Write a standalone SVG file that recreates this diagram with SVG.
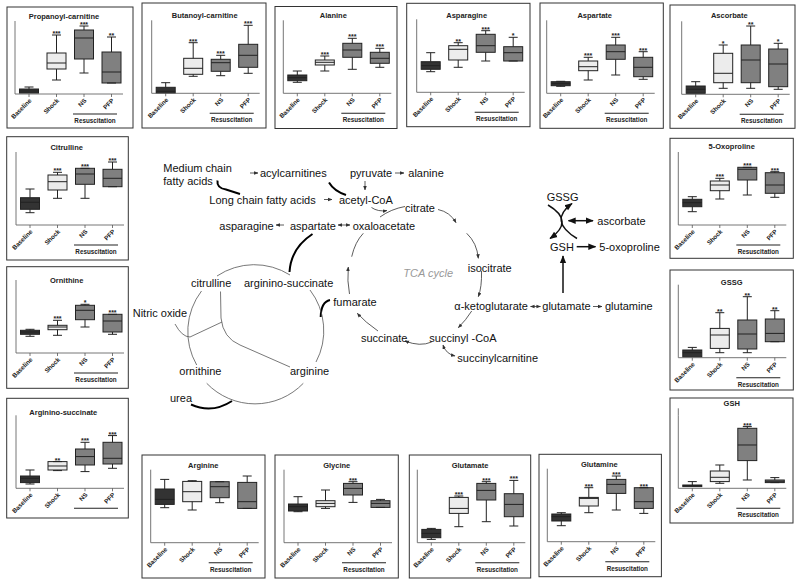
<svg xmlns="http://www.w3.org/2000/svg" width="800" height="584" viewBox="0 0 800 584">
<style>
.fr{fill:#fff;stroke:#333;stroke-width:1}
.ax{fill:none;stroke:#666;stroke-width:0.9}
.tk{fill:none;stroke:#555;stroke-width:0.8}
.ti{font:bold 7.5px "Liberation Sans",Arial,sans-serif;text-anchor:middle;fill:#222}
.xl{font:bold 6.3px "Liberation Sans",Arial,sans-serif;text-anchor:end;fill:#222}
.rl{stroke:#222;stroke-width:1.1}
.rt{font:bold 6.3px "Liberation Sans",Arial,sans-serif;text-anchor:middle;fill:#222}
.st{font:bold 7px "Liberation Sans",Arial,sans-serif;text-anchor:middle;fill:#222}
.w{fill:none;stroke:#222;stroke-width:1}
.b0{fill:#333;stroke:#222;stroke-width:1}
.b1{fill:#ececec;stroke:#222;stroke-width:1}
.b2{fill:#808080;stroke:#222;stroke-width:1}
.lb{font:11px "Liberation Sans",Arial,sans-serif;fill:#111}
.tca{font:italic 11px "Liberation Sans",Arial,sans-serif;fill:#999}
.tn{fill:none;stroke:#333;stroke-width:0.8}
.uc{fill:none;stroke:#555;stroke-width:0.8}
.tb{fill:none;stroke:#000;stroke-width:2}
.gs{fill:none;stroke:#111;stroke-width:1.5}
</style>
<defs>
<marker id="ah" viewBox="0 0 10 10" refX="9" refY="5" markerUnits="userSpaceOnUse" markerWidth="4.5" markerHeight="4.5" orient="auto-start-reverse"><path d="M0,1L10,5L0,9z" fill="#333"/></marker>
<marker id="ab" viewBox="0 0 10 10" refX="9" refY="5" markerUnits="userSpaceOnUse" markerWidth="8" markerHeight="8" orient="auto-start-reverse"><path d="M0,1L10,5L0,9z" fill="#111"/></marker>
<g id="xl">
<path class="ax" d="M0,-73V0H108"/>
<path class="tk" d="M14,0v3M41.5,0v3M69,0v3M96.5,0v3"/>
<text class="xl" transform="translate(17,7) rotate(-45)">Baseline</text>
<text class="xl" transform="translate(44.5,7) rotate(-45)">Shock</text>
<text class="xl" transform="translate(72,7) rotate(-45)">NS</text>
<text class="xl" transform="translate(99.5,7) rotate(-45)">PFP</text>
<path class="rl" d="M58,20H102"/>
</g>
<g id="xr"><use href="#xl"/><text class="rt" x="80" y="29">Resuscitation</text></g>
</defs>
<rect width="800" height="584" fill="#fff"/>

<g id="propanoyl-carnitine" transform="translate(15,94)">
<rect class="fr" x="-8" y="-87" width="126" height="121"/>
<text class="ti" x="49" y="-75.5">Propanoyl-carnitine</text>
<use href="#xr"/>
<rect class="b0" x="4.5" y="-5" width="19" height="4"/><path class="w" d="M14,-7V-5M9.5,-7h9M4.5,-3h19"/>
<rect class="b1" x="32" y="-41" width="19" height="16"/><path class="w" d="M41.5,-59V-41M41.5,-25V-14M37,-59h9M37,-14h9M32,-31h19"/><text class="st" x="41.5" y="-58">***</text>
<rect class="b2" x="59.5" y="-64" width="19" height="29"/><path class="w" d="M69,-68V-64M69,-35V-21M64.5,-68h9M64.5,-21h9M59.5,-56h19"/><text class="st" x="69" y="-67">***</text>
<rect class="b2" x="87" y="-42" width="19" height="31"/><path class="w" d="M96.5,-57V-42M92,-57h9M92,-11h9M87,-22h19"/><text class="st" x="96.5" y="-56">**</text>
</g>

<g id="butanoyl-carnitine" transform="translate(151.7,93.3)">
<rect class="fr" x="-9.7" y="-90.3" width="124" height="125"/>
<text class="ti" x="53" y="-75.5">Butanoyl-carnitine</text>
<use href="#xr"/>
<rect class="b0" x="4.5" y="-6" width="19" height="5.5"/><path class="w" d="M14,-10.6V-6M9.5,-10.6h9M4.5,-2h19"/>
<rect class="b1" x="32" y="-35" width="19" height="16"/><path class="w" d="M41.5,-50.6V-35M41.5,-19V-17M37,-50.6h9M37,-17h9M32,-25h19"/><text class="st" x="41.5" y="-49.6">***</text>
<rect class="b2" x="59.5" y="-34" width="19" height="12"/><path class="w" d="M69,-38V-34M69,-22V-17.6M64.5,-38h9M64.5,-17.6h9M59.5,-30.6h19"/><text class="st" x="69" y="-37">***</text>
<rect class="b2" x="87" y="-49" width="19" height="23"/><path class="w" d="M96.5,-68V-49M96.5,-26V-20M92,-68h9M92,-20h9M87,-38h19"/><text class="st" x="96.5" y="-67">***</text>
</g>

<g id="alanine" transform="translate(283.3,93.3)">
<rect class="fr" x="-8.3" y="-86.8" width="122" height="122"/>
<text class="ti" x="50" y="-75.5">Alanine</text>
<use href="#xr"/>
<rect class="b0" x="4.5" y="-18.3" width="19" height="5.7"/><path class="w" d="M14,-22.3V-18.3M14,-12.6V-11M9.5,-22.3h9M9.5,-11h9M4.5,-15.6h19"/>
<rect class="b1" x="32" y="-33.3" width="19" height="5"/><path class="w" d="M41.5,-37.3V-33.3M41.5,-28.3V-22.3M37,-37.3h9M37,-22.3h9M32,-31h19"/><text class="st" x="41.5" y="-36.3">***</text>
<rect class="b2" x="59.5" y="-50" width="19" height="14"/><path class="w" d="M69,-55V-50M69,-36V-24M64.5,-55h9M64.5,-24h9M59.5,-43.3h19"/><text class="st" x="69" y="-54">***</text>
<rect class="b2" x="87" y="-41" width="19" height="11"/><path class="w" d="M96.5,-45V-41M96.5,-30V-26M92,-45h9M92,-26h9M87,-35h19"/><text class="st" x="96.5" y="-44">***</text>
</g>

<g id="asparagine" transform="translate(416.7,92.3)">
<rect class="fr" x="-10" y="-89" width="123.3" height="123.4"/>
<text class="ti" x="50" y="-74.5">Asparagine</text>
<use href="#xr"/>
<rect class="b0" x="4.5" y="-30.6" width="19" height="7.6"/><path class="w" d="M14,-39.6V-30.6M14,-23V-20.6M9.5,-39.6h9M9.5,-20.6h9M4.5,-26.6h19"/>
<rect class="b1" x="32" y="-46.6" width="19" height="14.3"/><path class="w" d="M41.5,-49.6V-46.6M41.5,-32.3V-25M37,-49.6h9M37,-25h9M32,-43h19"/><text class="st" x="41.5" y="-48.6">**</text>
<rect class="b2" x="59.5" y="-58" width="19" height="18"/><path class="w" d="M69,-61.6V-58M69,-40V-31.3M64.5,-61.6h9M64.5,-31.3h9M59.5,-46.6h19"/><text class="st" x="69" y="-60.6">***</text>
<rect class="b2" x="87" y="-45.6" width="19" height="14.3"/><path class="w" d="M96.5,-55V-45.6M92,-55h9M92,-31.3h9M87,-39.6h19"/><text class="st" x="96.5" y="-54">*</text>
</g>

<g id="aspartate" transform="translate(546.7,93.3)">
<rect class="fr" x="-6.7" y="-90.3" width="123.3" height="125.3"/>
<text class="ti" x="48" y="-75.5">Aspartate</text>
<use href="#xr"/>
<rect class="b0" x="4.5" y="-11.6" width="19" height="4"/><path class="w" d="M14,-12V-11.6M14,-7.6V-7M9.5,-12h9M9.5,-7h9M4.5,-9.6h19"/>
<rect class="b1" x="32" y="-32.3" width="19" height="9.7"/><path class="w" d="M41.5,-36V-32.3M41.5,-22.6V-13.3M37,-36h9M37,-13.3h9M32,-26.6h19"/><text class="st" x="41.5" y="-35">***</text>
<rect class="b2" x="59.5" y="-48.3" width="19" height="14.3"/><path class="w" d="M69,-56V-48.3M69,-34V-18.3M64.5,-56h9M64.5,-18.3h9M59.5,-41.6h19"/><text class="st" x="69" y="-55">***</text>
<rect class="b2" x="87" y="-36" width="19" height="19.4"/><path class="w" d="M96.5,-41.6V-36M96.5,-16.6V-14M92,-41.6h9M92,-14h9M87,-26h19"/><text class="st" x="96.5" y="-40.6">***</text>
</g>

<g id="ascorbate" transform="translate(681.7,94.3)">
<rect class="fr" x="-11.7" y="-89.3" width="125" height="123.3"/>
<text class="ti" x="47.6" y="-76">Ascorbate</text>
<use href="#xr"/>
<rect class="b0" x="4.5" y="-8.3" width="19" height="7.3"/><path class="w" d="M14,-12.6V-8.3M9.5,-12.6h9M4.5,-5h19"/>
<rect class="b1" x="32" y="-41" width="19" height="29.4"/><path class="w" d="M41.5,-49.3V-41M41.5,-11.6V-6M37,-49.3h9M37,-6h9M32,-21h19"/><text class="st" x="41.5" y="-48.3">*</text>
<rect class="b2" x="59.5" y="-49.3" width="19" height="37.7"/><path class="w" d="M69,-68.3V-49.3M69,-11.6V-6M64.5,-68.3h9M64.5,-6h9M59.5,-34.3h19"/><text class="st" x="69" y="-67.3">**</text>
<rect class="b2" x="87" y="-45.3" width="19" height="37.7"/><path class="w" d="M96.5,-51V-45.3M96.5,-7.6V-5M92,-51h9M92,-5h9M87,-30.3h19"/><text class="st" x="96.5" y="-50">*</text>
</g>

<g id="citrulline" transform="translate(16,225)">
<rect class="fr" x="-9.3" y="-88.3" width="121.6" height="123.3"/>
<text class="ti" x="50.7" y="-75.5">Citrulline</text>
<use href="#xr"/>
<rect class="b0" x="4.5" y="-27.3" width="19" height="11.6"/><path class="w" d="M14,-36V-27.3M14,-15.7V-12.3M9.5,-36h9M9.5,-12.3h9M4.5,-22.7h19"/>
<rect class="b1" x="32" y="-50" width="19" height="15"/><path class="w" d="M41.5,-52.7V-50M41.5,-35V-26.7M37,-52.7h9M37,-26.7h9M32,-43.3h19"/><text class="st" x="41.5" y="-51.7">***</text>
<rect class="b2" x="59.5" y="-56.7" width="19" height="16"/><path class="w" d="M69,-40.7V-26.7M64.5,-56.7h9M64.5,-26.7h9M59.5,-51h19"/><text class="st" x="69" y="-55.7">***</text>
<rect class="b2" x="87" y="-55.7" width="19" height="17.4"/><path class="w" d="M96.5,-63V-55.7M92,-63h9M92,-38.3h9M87,-46.7h19"/><text class="st" x="96.5" y="-62">***</text>
</g>

<g id="ornithine" transform="translate(16,353)">
<rect class="fr" x="-9.3" y="-86.3" width="121.6" height="121.6"/>
<text class="ti" x="50.7" y="-70">Ornithine</text>
<use href="#xr"/>
<rect class="b0" x="4.5" y="-22.7" width="19" height="4"/><path class="w" d="M14,-23.7V-22.7M14,-18.7V-16.7M9.5,-23.7h9M9.5,-16.7h9M4.5,-21h19"/>
<rect class="b1" x="32" y="-27.7" width="19" height="4.4"/><path class="w" d="M41.5,-32.7V-27.7M41.5,-23.3V-17.7M37,-32.7h9M37,-17.7h9M32,-26h19"/><text class="st" x="41.5" y="-31.7">***</text>
<rect class="b2" x="59.5" y="-47.7" width="19" height="14.4"/><path class="w" d="M69,-48.7V-47.7M69,-33.3V-26M64.5,-48.7h9M64.5,-26h9M59.5,-42.7h19"/><text class="st" x="69" y="-47.7">*</text>
<rect class="b2" x="87" y="-38.7" width="19" height="17.7"/><path class="w" d="M96.5,-21V-18.7M92,-38.7h9M92,-18.7h9M87,-32h19"/><text class="st" x="96.5" y="-37.7">***</text>
</g>

<g id="arginino-succinate" transform="translate(16,488.3)">
<rect class="fr" x="-9.3" y="-90" width="121.6" height="119.7"/>
<text class="ti" x="47.3" y="-73">Arginino-succinate</text>
<use href="#xl"/>
<rect class="b0" x="4.5" y="-12.3" width="19" height="6.6"/><path class="w" d="M14,-18.3V-12.3M14,-5.7V-4.3M9.5,-18.3h9M9.5,-4.3h9M4.5,-10h19"/>
<rect class="b1" x="32" y="-26.7" width="19" height="8.4"/><path class="w" d="M41.5,-18.3V-17.7M37,-26.7h9M37,-17.7h9M32,-22.3h19"/><text class="st" x="41.5" y="-25.7">**</text>
<rect class="b2" x="59.5" y="-39.3" width="19" height="16"/><path class="w" d="M69,-46V-39.3M69,-23.3V-16.7M64.5,-46h9M64.5,-16.7h9M59.5,-31.7h19"/><text class="st" x="69" y="-45">***</text>
<rect class="b2" x="87" y="-46" width="19" height="21.7"/><path class="w" d="M96.5,-52.7V-46M96.5,-24.3V-20M92,-52.7h9M92,-20h9M87,-30h19"/><text class="st" x="96.5" y="-51.7">***</text>
</g>

<g id="oxoproline" transform="translate(678.3,225)">
<rect class="fr" x="-8.3" y="-86.7" width="123.3" height="120"/>
<text class="ti" x="53.4" y="-76">5-Oxoproline</text>
<use href="#xr"/>
<rect class="b0" x="4.5" y="-25.7" width="19" height="7.4"/><path class="w" d="M14,-28.3V-25.7M14,-18.3V-13.3M9.5,-28.3h9M9.5,-13.3h9M4.5,-22.3h19"/>
<rect class="b1" x="32" y="-44" width="19" height="9.7"/><path class="w" d="M41.5,-46.7V-44M41.5,-34.3V-26M37,-46.7h9M37,-26h9M32,-40h19"/><text class="st" x="41.5" y="-45.7">***</text>
<rect class="b2" x="59.5" y="-57.7" width="19" height="12.7"/><path class="w" d="M69,-45V-30M64.5,-57.7h9M64.5,-30h9M59.5,-55.7h19"/><text class="st" x="69" y="-56.7">***</text>
<rect class="b2" x="87" y="-52.3" width="19" height="20.6"/><path class="w" d="M96.5,-53.3V-52.3M96.5,-31.7V-27.7M92,-53.3h9M92,-27.7h9M87,-40h19"/><text class="st" x="96.5" y="-52.3">***</text>
</g>

<g id="gssg-panel" transform="translate(678.3,357.7)">
<rect class="fr" x="-8.3" y="-87.7" width="123.3" height="120"/>
<text class="ti" x="53.4" y="-72.5">GSSG</text>
<use href="#xr"/>
<rect class="b0" x="4.5" y="-7.7" width="19" height="6.7"/><path class="w" d="M14,-10.3V-7.7M9.5,-10.3h9M4.5,-5h19"/>
<rect class="b1" x="32" y="-29.3" width="19" height="20"/><path class="w" d="M41.5,-45V-29.3M41.5,-9.3V-5M37,-45h9M37,-5h9M32,-22.7h19"/><text class="st" x="41.5" y="-44">**</text>
<rect class="b2" x="59.5" y="-37.7" width="19" height="29"/><path class="w" d="M69,-61V-37.7M69,-8.7V-5M64.5,-61h9M64.5,-5h9M59.5,-23.7h19"/><text class="st" x="69" y="-60">**</text>
<rect class="b2" x="87" y="-38.7" width="19" height="22.7"/><path class="w" d="M96.5,-47V-38.7M92,-47h9M92,-16h9M87,-24.3h19"/><text class="st" x="96.5" y="-46">**</text>
</g>

<g id="gsh-panel" transform="translate(678.3,488.3)">
<rect class="fr" x="-8.3" y="-90.3" width="123" height="125"/>
<text class="ti" x="53.4" y="-82">GSH</text>
<path class="ax" d="M0,-80V-73"/>
<use href="#xr"/>
<rect class="b0" x="4.5" y="-3.3" width="19" height="1.6"/><path class="w" d="M14,-6.7V-3.3M9.5,-6.7h9M4.5,-2.7h19"/>
<rect class="b1" x="32" y="-17.3" width="19" height="10.6"/><path class="w" d="M41.5,-23.3V-17.3M41.5,-6.7V-5M37,-23.3h9M37,-5h9M32,-11h19"/>
<rect class="b2" x="59.5" y="-60" width="19" height="32.3"/><path class="w" d="M69,-61.7V-60M69,-27.7V-8.3M64.5,-61.7h9M64.5,-8.3h9M59.5,-43.3h19"/><text class="st" x="69" y="-60.7">***</text>
<rect class="b2" x="87" y="-8.3" width="19" height="2.6"/><path class="w" d="M96.5,-10.7V-8.3M92,-10.7h9M92,-5.7h9M87,-7h19"/>
</g>

<g id="arginine-panel" transform="translate(150.7,542.7)">
<rect class="fr" x="-8.7" y="-87.7" width="123" height="123"/>
<text class="ti" x="52.6" y="-75">Arginine</text>
<use href="#xr"/>
<rect class="b0" x="4.5" y="-53.7" width="19" height="15.4"/><path class="w" d="M14,-63.3V-53.7M14,-38.3V-35M9.5,-63.3h9M9.5,-35h9M4.5,-43.3h19"/>
<rect class="b1" x="32" y="-61.3" width="19" height="20.3"/><path class="w" d="M41.5,-62V-61.3M41.5,-41V-32.7M37,-62h9M37,-32.7h9M32,-51h19"/>
<rect class="b2" x="59.5" y="-61" width="19" height="16"/><path class="w" d="M69,-45V-40M64.5,-61h9M64.5,-40h9M59.5,-56h19"/>
<rect class="b2" x="87" y="-60.3" width="19" height="26"/><path class="w" d="M96.5,-66.7V-60.3M92,-66.7h9M92,-34.3h9M87,-41h19"/>
</g>

<g id="glycine" transform="translate(284,542.7)">
<rect class="fr" x="-9" y="-87.7" width="123.3" height="123"/>
<text class="ti" x="52.7" y="-75">Glycine</text>
<use href="#xr"/>
<rect class="b0" x="4.5" y="-38.7" width="19" height="7"/><path class="w" d="M14,-46V-38.7M14,-31.7V-31M9.5,-46h9M9.5,-31h9M4.5,-36h19"/>
<rect class="b1" x="32" y="-42" width="19" height="6"/><path class="w" d="M41.5,-52.7V-42M41.5,-36V-34.3M37,-52.7h9M37,-34.3h9M32,-39.3h19"/>
<rect class="b2" x="59.5" y="-59.3" width="19" height="11.6"/><path class="w" d="M69,-61V-59.3M69,-47.7V-40.3M64.5,-61h9M64.5,-40.3h9M59.5,-54.3h19"/><text class="st" x="69" y="-60">***</text>
<rect class="b2" x="87" y="-42" width="19" height="6.7"/><path class="w" d="M96.5,-43.3V-42M92,-43.3h9M92,-35.3h9M87,-39.3h19"/>
</g>

<g id="glutamate-panel" transform="translate(417.3,542.7)">
<rect class="fr" x="-8" y="-87.7" width="121.4" height="123"/>
<text class="ti" x="52.7" y="-75">Glutamate</text>
<use href="#xr"/>
<rect class="b0" x="4.5" y="-13.3" width="19" height="8.3"/><path class="w" d="M14,-14.3V-13.3M14,-5V-3.3M9.5,-14.3h9M9.5,-3.3h9M4.5,-9.3h19"/>
<rect class="b1" x="32" y="-45.3" width="19" height="16"/><path class="w" d="M41.5,-46.7V-45.3M41.5,-29.3V-16M37,-46.7h9M37,-16h9M32,-34.3h19"/><text class="st" x="41.5" y="-45.7">***</text>
<rect class="b2" x="59.5" y="-59.3" width="19" height="16.6"/><path class="w" d="M69,-61V-59.3M69,-42.7V-21M64.5,-61h9M64.5,-21h9M59.5,-52.3h19"/><text class="st" x="69" y="-60">***</text>
<rect class="b2" x="87" y="-49" width="19" height="23"/><path class="w" d="M96.5,-62.3V-49M96.5,-26V-16.7M92,-62.3h9M92,-16.7h9M87,-38.3h19"/><text class="st" x="96.5" y="-61.3">***</text>
</g>

<g id="glutamine-panel" transform="translate(547.3,541.7)">
<rect class="fr" x="-8.3" y="-87.4" width="122.4" height="122.4"/>
<text class="ti" x="52" y="-75">Glutamine</text>
<use href="#xr"/>
<rect class="b0" x="4.5" y="-27.7" width="19" height="7"/><path class="w" d="M14,-29V-27.7M14,-20.7V-16M9.5,-29h9M9.5,-16h9M4.5,-25h19"/>
<rect class="b1" x="32" y="-44.3" width="19" height="8.6"/><path class="w" d="M41.5,-54V-44.3M41.5,-35.7V-29M37,-54h9M37,-29h9M32,-43.3h19"/><text class="st" x="41.5" y="-53">***</text>
<rect class="b2" x="59.5" y="-62.3" width="19" height="14"/><path class="w" d="M69,-65.7V-62.3M69,-48.3V-31.7M64.5,-65.7h9M64.5,-31.7h9M59.5,-57.3h19"/><text class="st" x="69" y="-64.7">***</text>
<rect class="b2" x="87" y="-54" width="19" height="20.7"/><path class="w" d="M96.5,-33.3V-28.3M92,-54h9M92,-28.3h9M87,-40h19"/><text class="st" x="96.5" y="-53">***</text>
</g>

<g id="connectors">
<path class="tn" marker-end="url(#ah)" d="M250,173H258"/>
<path class="tn" marker-end="url(#ah)" d="M395,173H404"/>
<path class="tn" marker-end="url(#ah)" d="M365,181V190"/>
<path class="tn" marker-end="url(#ah)" d="M324,199.5H332"/>
<path class="tn" marker-end="url(#ah)" d="M284,225H276"/>
<path class="tn" marker-start="url(#ah)" marker-end="url(#ah)" d="M338,225H350"/>
<path class="tn" marker-start="url(#ah)" marker-end="url(#ah)" d="M530.5,306.5H540.5"/>
<path class="tn" marker-end="url(#ah)" d="M593,306.5H602"/>
<path class="tn" marker-end="url(#ah)" d="M371.5,207.5Q378,212 387,210.5"/>
<path class="tn" d="M380,217Q391,209 405,206.5"/>
<path class="tn" marker-end="url(#ah)" d="M438,209.5Q450,212 456,222.7"/>
<path class="tn" marker-end="url(#ah)" d="M466.7,233.3Q477,243 478.3,258.3"/>
<path class="tn" marker-end="url(#ah)" d="M481.5,271Q482,287 478.3,296.7"/>
<path class="tn" marker-end="url(#ah)" d="M471.7,311Q466,320 458.3,327.7"/>
<path class="tn" marker-end="url(#ah)" d="M431.7,342Q420,347 405,341"/>
<path class="tn" marker-end="url(#ah)" d="M378,331Q365,322 357.3,313.3"/>
<path class="tn" marker-end="url(#ah)" d="M349.5,294Q347,281 348.3,267"/>
<path class="tn" d="M351.7,256.7Q355,242 363.3,233.3"/>
<path class="tn" marker-start="url(#ah)" marker-end="url(#ah)" d="M443,345Q446,354 455,356"/>
<path class="tb" d="M217.5,180.5Q216.5,188 226,189.5L240,194"/>
<path class="tb" d="M329,182.5Q334,191 346,195"/>
<path class="tb" d="M312.5,234Q291,248 289.5,272"/>
<path class="tb" d="M330,300Q321,302 320.7,317"/>
<path class="tb" d="M191,404.5Q212,414 232,401"/>
<path class="uc" d="M217,276A67,67 0 0 1 290,275"/>
<path class="uc" d="M201.5,291A67,67 0 0 0 196.7,365"/>
<path class="uc" d="M206.7,383.3A67,67 0 0 0 303.3,383.3"/>
<path class="uc" d="M310,290A67,67 0 0 1 316,362"/>
<path class="uc" d="M220.5,291.5L221,318Q223,338 240,345L290,367"/>
<path class="uc" d="M175,324Q182,337 190,337L222,322"/>
<path class="gs" marker-end="url(#ab)" d="M548,205Q575,221 550,238.5"/>
<path class="gs" marker-end="url(#ab)" d="M577,238.5Q548,221 572,203.5"/>
<path class="gs" marker-start="url(#ab)" marker-end="url(#ab)" d="M568.5,220.7H593"/>
<path class="gs" marker-end="url(#ab)" d="M576.7,246.7H595.5"/>
<path class="gs" marker-end="url(#ab)" d="M563,293V256"/>
</g>

<g id="n-medium"><text class="lb" x="163.3" y="171.5">Medium chain</text><text class="lb" x="163.3" y="185">fatty acids</text></g>
<g id="n-acylcarnitines"><text class="lb" x="260" y="176.5">acylcarnitines</text></g>
<g id="n-pyruvate"><text class="lb" x="350" y="176.5">pyruvate</text></g>
<g id="n-alanine"><text class="lb" x="408.3" y="176.5">alanine</text></g>
<g id="n-long"><text class="lb" x="209.3" y="203.5">Long chain fatty acids</text></g>
<g id="n-acetyl"><text class="lb" x="339" y="203.5">acetyl-CoA</text></g>
<g id="n-citrate"><text class="lb" x="405" y="212">citrate</text></g>
<g id="n-asparagine"><text class="lb" x="219.3" y="229.5">asparagine</text></g>
<g id="n-aspartate"><text class="lb" x="290" y="229.5">aspartate</text></g>
<g id="n-oxaloacetate"><text class="lb" x="352.7" y="229.5">oxaloacetate</text></g>
<g id="n-tca"><text class="tca" x="403.3" y="277">TCA cycle</text></g>
<g id="n-isocitrate"><text class="lb" x="467.7" y="271.5">isocitrate</text></g>
<g id="n-akg"><text class="lb" x="454.3" y="310">α-ketoglutarate</text></g>
<g id="n-glutamate"><text class="lb" x="542.3" y="310">glutamate</text></g>
<g id="n-glutamine"><text class="lb" x="605" y="310">glutamine</text></g>
<g id="n-succinylcoa"><text class="lb" x="429.3" y="341.5">succinyl -CoA</text></g>
<g id="n-succinate"><text class="lb" x="361" y="342">succinate</text></g>
<g id="n-succinylcarnitine"><text class="lb" x="457.3" y="362">succinylcarnitine</text></g>
<g id="n-fumarate"><text class="lb" x="333.3" y="306">fumarate</text></g>
<g id="n-citrulline"><text class="lb" x="191" y="286.5">citrulline</text></g>
<g id="n-argininosuccinate"><text class="lb" x="244" y="286.5">arginino-succinate</text></g>
<g id="n-no"><text class="lb" x="132.7" y="317">Nitric oxide</text></g>
<g id="n-ornithine"><text class="lb" x="179.3" y="374.5">ornithine</text></g>
<g id="n-arginine"><text class="lb" x="290" y="374.5">arginine</text></g>
<g id="n-urea"><text class="lb" x="170" y="402">urea</text></g>
<g id="n-gssg"><text class="lb" x="546.7" y="200.5">GSSG</text></g>
<g id="n-gsh"><text class="lb" x="550" y="250.5">GSH</text></g>
<g id="n-ascorbate"><text class="lb" x="597.3" y="225">ascorbate</text></g>
<g id="n-oxoproline"><text class="lb" x="599.3" y="250.5">5-oxoproline</text></g>
</svg>
